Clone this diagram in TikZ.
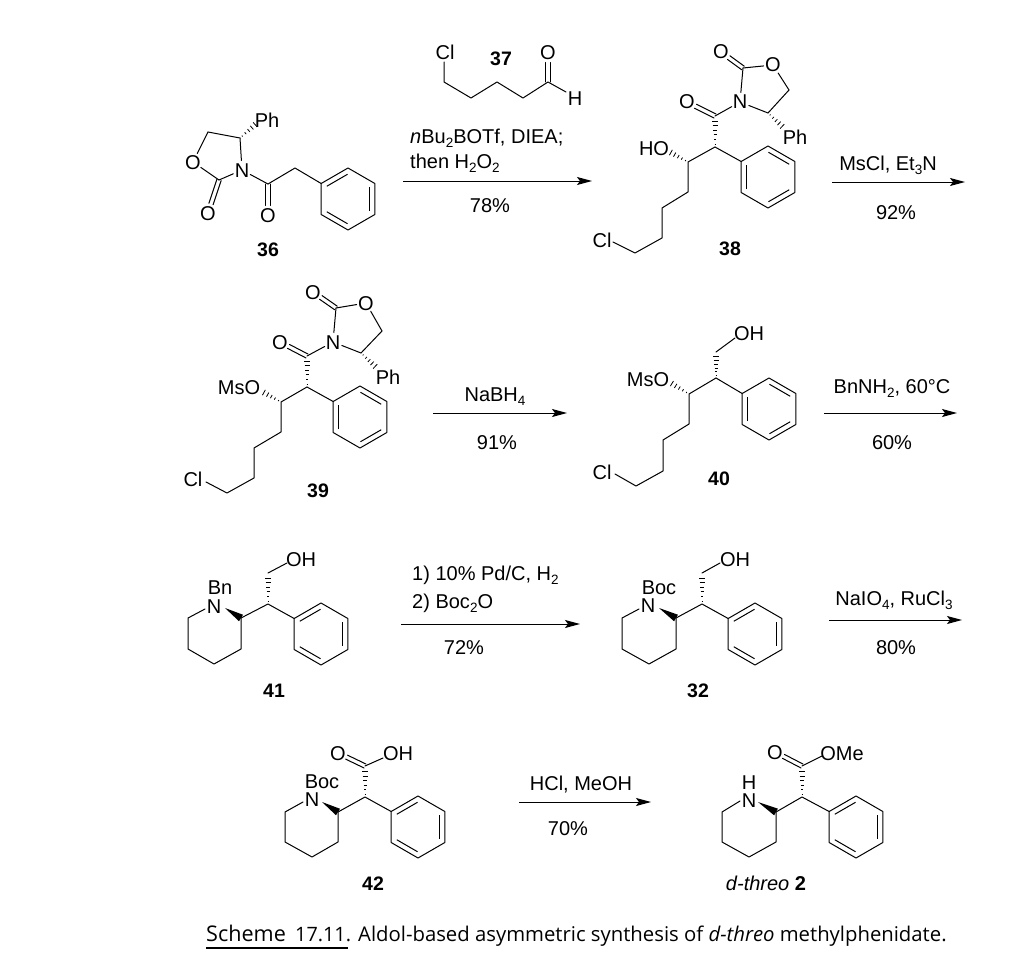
\documentclass[tikz,border=0pt]{standalone}
\usepackage{fontspec}
\setmainfont{Liberation Sans}
\newfontfamily\capfont{Open Sans}
\usetikzlibrary{calc,arrows.meta}
\newcommand\sbs[1]{\raisebox{-0.22em}{\fontsize{13.5}{13.5}\selectfont #1}}
\tikzset{
  bond/.style={line width=1pt,line cap=round,line join=round},
  sa/.style={shorten >=9.5pt},
  sb/.style={shorten <=9.5pt},
  hashl/.style={line width=0.8pt},
  inring/.style={line width=1pt,shorten >=0.5pt,shorten <=0.5pt},
  chemtxt/.style={inner sep=0pt,anchor=base,yshift=-7pt,font=\fontsize{20}{22}\selectfont},
  numtxt/.style={chemtxt,font=\fontsize{19.5}{22}\selectfont\bfseries},
  rxn/.style={line width=1pt,-{Stealth[length=15pt,width=8pt,inset=3pt]}},
  capt/.style={inner sep=0pt,anchor=base west,font=\capfont\fontsize{20.3}{22}\selectfont},
}
\newcommand\lab[4]{\coordinate (#1) at (#2,#3); \node[chemtxt] (#1t) at (#2,#3) {#4};}
\newcommand\txt[4]{\node[chemtxt] (#1) at (#2,#3) {#4};}
\newcommand\ltxt[4]{\node[chemtxt,anchor=base west] (#1) at (#2,#3) {#4};}
\newcommand\num[4]{\node[numtxt] (#1) at (#2,#3) {#4};}
% short hashed wedge (to a label) and long hashed wedge (carbon to carbon)
\newcommand\hashb[2]{\foreach \t/\w in {0.14/0.6,0.34/1.2,0.54/1.8,0.74/2.4,0.95/3.0}{\draw[hashl] ($(#1)!\t!(#2)!\w pt!90:(#2)$) -- ($(#1)!\t!(#2)!\w pt!-90:(#2)$);}}
\newcommand\hashc[2]{\foreach \t/\w in {0.10/0.5,0.26/1.0,0.42/1.5,0.58/2.0,0.74/2.5,0.90/3.0}{\draw[hashl] ($(#1)!\t!(#2)!\w pt!90:(#2)$) -- ($(#1)!\t!(#2)!\w pt!-90:(#2)$);}}
\newcommand\wedgeb[2]{\fill ($(#1)!0pt!(#2)$) -- ($(#2)!3.8pt!90:(#1)$) -- ($(#2)!3.8pt!-90:(#1)$) -- cycle;}
\newcommand\dbondb[3][]{\draw[bond,#1] ($(#2)!2.2pt!90:(#3)$) -- ($(#3)!2.2pt!-90:(#2)$);\draw[bond,#1] ($(#2)!2.2pt!-90:(#3)$) -- ($(#3)!2.2pt!90:(#2)$);}
\newcommand\phenhex[3]{\begin{scope}[shift={(#2,#3)}]
 \coordinate (#1i) at (-26.85,-15.5);\coordinate (#1t) at (0,-31);\coordinate (#1u) at (26.85,-15.5);
 \coordinate (#1l) at (26.85,15.5);\coordinate (#1b) at (0,31);\coordinate (#1k) at (-26.85,15.5);
 \coordinate (#1a) at (-21.65,-12.5);\coordinate (#1c) at (0,-25);\coordinate (#1d) at (21.65,-12.5);
 \coordinate (#1e) at (21.65,12.5);\coordinate (#1f) at (0,25);\coordinate (#1g) at (-21.65,12.5);
 \end{scope}
 \draw[bond] (#1i) -- (#1t) -- (#1u) -- (#1l) -- (#1b) -- (#1k) -- cycle;}
\newcommand\phenA[3]{\phenhex{#1}{#2}{#3}\draw[inring] (#1a) -- (#1c);\draw[inring] (#1d) -- (#1e);\draw[inring] (#1f) -- (#1g);}
\newcommand\phenB[3]{\phenhex{#1}{#2}{#3}\draw[inring] (#1c) -- (#1d);\draw[inring] (#1e) -- (#1f);\draw[inring] (#1g) -- (#1a);}
\begin{document}
\begin{tikzpicture}[x=1pt,y=-1pt]
\useasboundingbox (0,0) rectangle (1024,979);
% ---- 36
\lab{n36}{242}{170}{N}\lab{or36}{193}{162}{O}\lab{oe36}{208}{213}{O}\lab{oa36}{268}{215}{O}
\txt{ph36}{267}{120}{Ph}
\coordinate (ca36) at (240,138);\coordinate (cb36) at (208,132);\coordinate (cc36) at (219,180);
\coordinate (cd36) at (268,184);\coordinate (ce36) at (295,168);\coordinate (eh36) at (256,124);
\draw[bond,sa] (ca36) -- (n36);\draw[bond] (ca36) -- (cb36);\draw[bond,sa] (cb36) -- (or36);
\draw[bond,sa] (cc36) -- (or36);\draw[bond,sa] (cc36) -- (n36);\draw[bond,sb] (n36) -- (cd36);
\dbondb[sa]{cc36}{oe36}\dbondb[sa]{cd36}{oa36}
\phenA{p36}{348}{199}
\draw[bond] (cd36) -- (ce36) -- (p36i);
\hashb{ca36}{eh36}
\num{l36}{268}{249}{36}
% ---- 37
\lab{cl37}{445}{53}{Cl}\lab{o37}{548}{53}{O}\lab{h37}{575}{99}{H}
\coordinate (a37) at (444,82);\coordinate (b37) at (471,98);\coordinate (c37) at (497,82);
\coordinate (d37) at (523,98);\coordinate (e37) at (548,82);\coordinate (f37) at (444,62);\coordinate (g37) at (566,92);
\draw[bond] (f37) -- (a37) -- (b37) -- (c37) -- (d37) -- (e37) -- (g37);
\dbondb[sa]{e37}{o37}
\num{l37}{501}{59}{37}
% ---- arrow 1
\coordinate (r1s) at (403,181);\coordinate (r1e) at (592,181);\draw[rxn] (r1s) -- (r1e);
\ltxt{r1a}{410}{136}{\textit{n}Bu\sbs{2}BOTf, DIEA;}
\ltxt{r1b}{410}{161}{then H\sbs{2}O\sbs{2}}
\txt{r1c}{490}{205}{78\%}
% ---- 38
\lab{oe38}{721}{52}{O}\lab{or38}{773}{65}{O}\lab{n38}{740}{102}{N}\lab{oa38}{687}{102}{O}
\txt{ph38}{795}{137}{Ph}\txt{ho38}{654}{148}{HO}\txt{cl38}{602}{240}{Cl}
\coordinate (a38) at (743,68);\coordinate (b38) at (789,90);\coordinate (c38) at (768,113);
\coordinate (d38) at (715,116);\coordinate (e38) at (715,147);\coordinate (f38) at (688,162);
\coordinate (g38) at (688,192);\coordinate (h38) at (662,208);\coordinate (i38) at (662,238);
\coordinate (j38) at (635,253);\coordinate (k38) at (613,242);
\coordinate (m38) at (783,127);\coordinate (q38) at (670,152);\coordinate (s38) at (715,118);
\draw[bond,sa] (a38) -- (or38);\draw[bond,sb] (or38) -- (b38);\draw[bond] (b38) -- (c38);
\draw[bond,sa] (c38) -- (n38);\draw[bond,sa] (a38) -- (n38);\draw[bond,sb] (n38) -- (d38);
\dbondb[sa]{a38}{oe38}\dbondb[sa]{d38}{oa38}
\phenB{p38}{768}{177}
\draw[bond] (e38) -- (f38) -- (g38) -- (h38) -- (i38) -- (j38) -- (k38);
\draw[bond] (e38) -- (p38i);
\hashb{c38}{m38}\hashb{f38}{q38}\hashc{e38}{s38}
\num{l38}{730}{248}{38}
% ---- arrow 2
\coordinate (r2s) at (832,182);\coordinate (r2e) at (965,182);\draw[rxn] (r2s) -- (r2e);
\txt{r2a}{888}{163}{MsCl, Et\sbs{3}N}
\txt{r2b}{896}{212}{92\%}
% ---- 39
\lab{oe39}{313}{292}{O}\lab{or39}{366}{303}{O}\lab{n39}{333}{342}{N}\lab{oa39}{280}{342}{O}
\txt{ph39}{388}{377}{Ph}\txt{ms39}{239}{387}{MsO}\txt{cl39}{193}{479}{Cl}
\coordinate (a39) at (336,308);\coordinate (b39) at (382,331);\coordinate (c39) at (361,353);
\coordinate (d39) at (307,356);\coordinate (e39) at (307,387);\coordinate (f39) at (281,402);
\coordinate (g39) at (281,432);\coordinate (h39) at (254,448);\coordinate (i39) at (254,478);
\coordinate (j39) at (227,493);\coordinate (k39) at (206,482);
\coordinate (m39) at (376,367);\coordinate (q39) at (263,392);\coordinate (s39) at (307,358);
\draw[bond,sa] (a39) -- (or39);\draw[bond,sb] (or39) -- (b39);\draw[bond] (b39) -- (c39);
\draw[bond,sa] (c39) -- (n39);\draw[bond,sa] (a39) -- (n39);\draw[bond,sb] (n39) -- (d39);
\dbondb[sa]{a39}{oe39}\dbondb[sa]{d39}{oa39}
\phenB{p39}{360}{417}
\draw[bond] (e39) -- (f39) -- (g39) -- (h39) -- (i39) -- (j39) -- (k39);
\draw[bond] (e39) -- (p39i);
\hashb{c39}{m39}\hashb{f39}{q39}\hashc{e39}{s39}
\num{l39}{318}{490}{39}
% ---- arrow 3
\coordinate (r3s) at (433,413);\coordinate (r3e) at (567,413);\draw[rxn] (r3s) -- (r3e);
\txt{r3a}{495}{394}{NaBH\sbs{4}}
\txt{r3b}{497}{442}{91\%}
% ---- 40
\txt{oh40}{749}{333}{OH}\txt{ms40}{648}{379}{MsO}\txt{cl40}{602}{472}{Cl}
\coordinate (a40) at (716,352);\coordinate (b40) at (716,378);\coordinate (c40) at (689,394);
\coordinate (d40) at (689,424);\coordinate (e40) at (663,440);\coordinate (f40) at (663,471);
\coordinate (g40) at (636,486);\coordinate (h40) at (615,474);\coordinate (i40) at (735,338);
\coordinate (m40) at (671,383);\coordinate (s40) at (716,354);
\phenB{p40}{769}{409}
\draw[bond] (i40) -- (a40);
\draw[bond] (b40) -- (c40) -- (d40) -- (e40) -- (f40) -- (g40) -- (h40);
\draw[bond] (b40) -- (p40i);
\hashb{c40}{m40}\hashc{b40}{s40}
\num{l40}{719}{478}{40}
% ---- arrow 4
\coordinate (r4s) at (824,413);\coordinate (r4e) at (957,413);\draw[rxn] (r4s) -- (r4e);
\txt{r4a}{892}{386}{BnNH\sbs{2}, 60°C}
\txt{r4b}{892}{442}{60\%}
% ---- 41
\txt{oh41}{301}{559}{OH}\txt{n41}{214}{606}{N}\txt{bn41}{220}{587}{Bn}
\coordinate (a41) at (268,573);\coordinate (b41) at (268,604);\coordinate (c41) at (241,618);
\coordinate (d41) at (188,618);\coordinate (e41) at (188,649);\coordinate (f41) at (214,664);
\coordinate (g41) at (241,649);\coordinate (h41) at (205,609);\coordinate (i41) at (287,563);
\coordinate (j41) at (225,608);\coordinate (s41) at (268,575);
\phenA{p41}{321}{634}
\draw[bond] (h41) -- (d41) -- (e41) -- (f41) -- (g41) -- (c41) -- (b41) -- (p41i);
\draw[bond] (a41) -- (i41);
\wedgeb{j41}{c41}\hashc{b41}{s41}
\num{l41}{274}{690}{41}
% ---- arrow 5
\coordinate (r5s) at (401,624);\coordinate (r5e) at (580,624);\draw[rxn] (r5s) -- (r5e);
\ltxt{r5a}{412}{573}{1) 10\% Pd/C, H\sbs{2}}
\ltxt{r5b}{412}{601}{2) Boc\sbs{2}O}
\txt{r5c}{464}{647}{72\%}
% ---- 32
\txt{oh32}{735}{559}{OH}\txt{n32}{648}{605}{N}\txt{bc32}{659}{587}{Boc}
\coordinate (a32) at (702,573);\coordinate (b32) at (702,604);\coordinate (c32) at (676,618);
\coordinate (d32) at (622,618);\coordinate (e32) at (622,649);\coordinate (f32) at (649,664);
\coordinate (g32) at (676,649);\coordinate (h32) at (639,609);\coordinate (i32) at (720,563);
\coordinate (j32) at (659,608);\coordinate (s32) at (702,575);
\phenA{p32}{755}{634}
\draw[bond] (h32) -- (d32) -- (e32) -- (f32) -- (g32) -- (c32) -- (b32) -- (p32i);
\draw[bond] (a32) -- (i32);
\wedgeb{j32}{c32}\hashc{b32}{s32}
\num{l32}{698}{690}{32}
% ---- arrow 6
\coordinate (r6s) at (829,620);\coordinate (r6e) at (962,620);\draw[rxn] (r6s) -- (r6e);
\txt{r6a}{894}{598}{NaIO\sbs{4}, RuCl\sbs{3}}
\txt{r6b}{896}{647}{80\%}
% ---- 42
\lab{o42}{338}{753}{O}\txt{oh42}{398}{753}{OH}\txt{n42}{312}{799}{N}\txt{bc42}{322}{781}{Boc}
\coordinate (a42) at (365,766);\coordinate (b42) at (365,797);\coordinate (c42) at (338,812);
\coordinate (d42) at (285,812);\coordinate (e42) at (285,842);\coordinate (f42) at (312,857);
\coordinate (g42) at (338,842);\coordinate (h42) at (303,802);\coordinate (i42) at (383,758);
\coordinate (j42) at (322,802);\coordinate (s42) at (365,769);
\phenA{p42}{418}{827}
\draw[bond] (h42) -- (d42) -- (e42) -- (f42) -- (g42) -- (c42) -- (b42) -- (p42i);
\draw[bond] (a42) -- (i42);
\dbondb[sa]{a42}{o42}
\wedgeb{j42}{c42}\hashc{b42}{s42}
\num{l42}{373}{883}{42}
% ---- arrow 7
\coordinate (r7s) at (519,802);\coordinate (r7e) at (651,802);\draw[rxn] (r7s) -- (r7e);
\txt{r7a}{581}{783}{HCl, MeOH}
\txt{r7b}{568}{828}{70\%}
% ---- 2
\lab{o2}{775}{752}{O}\txt{me2}{842}{753}{OMe}\txt{n2}{749}{800}{N}\txt{h2}{749}{782}{H}
\coordinate (a2) at (802,766);\coordinate (b2) at (802,797);\coordinate (c2) at (776,812);
\coordinate (d2) at (722,812);\coordinate (e2) at (722,842);\coordinate (f2) at (749,857);
\coordinate (g2) at (776,842);\coordinate (h2c) at (740,801);\coordinate (i2) at (822,756);
\coordinate (j2) at (758,802);\coordinate (s2) at (802,769);
\phenA{p2}{856}{827}
\draw[bond] (h2c) -- (d2) -- (e2) -- (f2) -- (g2) -- (c2) -- (b2) -- (p2i);
\draw[bond] (a2) -- (i2);
\dbondb[sa]{a2}{o2}
\wedgeb{j2}{c2}\hashc{b2}{s2}
\node[chemtxt] (l2) at (766,883) {\textit{d-threo} \textbf{2}};
% ---- caption
\node[capt] (capa) at (206,941) {\fontsize{21.6}{25}\selectfont Scheme};
\node[capt,font=\capfont\fontsize{19.8}{22}\selectfont] (capn) at (295,941) {17.11.};
\coordinate (cul) at (206,948);\coordinate (cur) at (348,948);
\draw[line width=2pt] (cul) -- (cur);
\node[capt] (capb) at (358,941) {Aldol-based asymmetric synthesis of \textit{d-threo} methylphenidate.};
\end{tikzpicture}
\end{document}
